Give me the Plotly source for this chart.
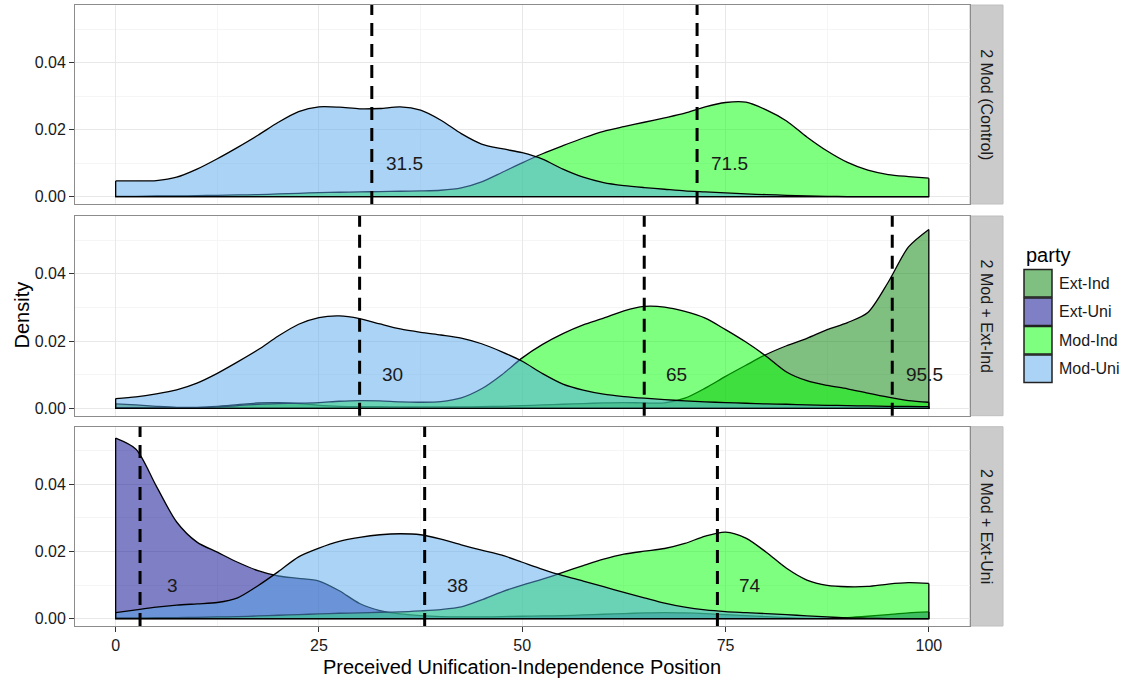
import plotly.graph_objects as go

# ---------------- data ----------------
X_GRID = [0, 2.5, 5, 7.5, 10, 12.5, 15, 17.5, 20, 22.5, 25, 27.5, 30, 32.5, 35, 37.5,
          40, 42.5, 45, 47.5, 50, 52.5, 55, 57.5, 60, 62.5, 65, 67.5, 70, 72.5, 75,
          77.5, 80, 82.5, 85, 87.5, 90, 92.5, 95, 97.5, 100]

PANELS = ["2 Mod (Control)", "2 Mod + Ext-Ind", "2 Mod + Ext-Uni"]
PARTIES = ["Ext-Ind", "Ext-Uni", "Mod-Ind", "Mod-Uni"]

# panel 1: 2 Mod (Control)
CONTROL_MOD_IND = [0.0001, 0.0001, 0.0002, 0.0002, 0.0003, 0.0004, 0.0005, 0.0006, 0.0008, 0.0010,
                   0.0012, 0.0013, 0.0014, 0.0015, 0.0016, 0.0017, 0.0019, 0.0026, 0.0044, 0.0072,
                   0.0101, 0.0128, 0.0152, 0.0175, 0.0195, 0.0209, 0.0222, 0.0235, 0.0249, 0.0268,
                   0.0281, 0.0282, 0.0259, 0.0226, 0.0178, 0.0136, 0.0102, 0.0079, 0.0066, 0.0060,
                   0.0055]
CONTROL_MOD_UNI = [0.0047, 0.0047, 0.0048, 0.0058, 0.0082, 0.0113, 0.0147, 0.0183, 0.0222, 0.0254,
                   0.0268, 0.0267, 0.0262, 0.0263, 0.0268, 0.0258, 0.0228, 0.0188, 0.0157, 0.0143,
                   0.0131, 0.0112, 0.0082, 0.0058, 0.0042, 0.0033, 0.0027, 0.0022, 0.0017, 0.0014,
                   0.0011, 0.0008, 0.0006, 0.0004, 0.0002, 0.0001, 0.0000, 0.0000, 0.0000, 0.0000,
                   0.0000]

# panel 2: 2 Mod + Ext-Ind
EXTIND_EXT_IND = [0.0013, 0.0010, 0.0006, 0.0003, 0.0003, 0.0006, 0.0011, 0.0016, 0.0017, 0.0014,
                  0.0009, 0.0006, 0.0005, 0.0005, 0.0004, 0.0004, 0.0004, 0.0004, 0.0005, 0.0006,
                  0.0008, 0.0010, 0.0012, 0.0014, 0.0016, 0.0017, 0.0016, 0.0016, 0.0030, 0.0060,
                  0.0095, 0.0128, 0.0160, 0.0186, 0.0208, 0.0234, 0.0255, 0.0285, 0.0375, 0.0480,
                  0.0532]
EXTIND_MOD_IND = [0.0002, 0.0002, 0.0001, 0.0001, 0.0002, 0.0004, 0.0008, 0.0012, 0.0014, 0.0015,
                  0.0017, 0.0021, 0.0023, 0.0022, 0.0019, 0.0018, 0.0020, 0.0031, 0.0058, 0.0100,
                  0.0150, 0.0190, 0.0222, 0.0248, 0.0268, 0.0290, 0.0303, 0.0301, 0.0288, 0.0268,
                  0.0234, 0.0197, 0.0155, 0.0108, 0.0082, 0.0068, 0.0058, 0.0045, 0.0033, 0.0023,
                  0.0018]
EXTIND_MOD_UNI = [0.0029, 0.0034, 0.0043, 0.0055, 0.0075, 0.0104, 0.0138, 0.0174, 0.0215, 0.0250,
                  0.0270, 0.0275, 0.0267, 0.0251, 0.0236, 0.0226, 0.0218, 0.0209, 0.0192, 0.0168,
                  0.0140, 0.0103, 0.0072, 0.0054, 0.0042, 0.0035, 0.0030, 0.0026, 0.0022, 0.0019,
                  0.0017, 0.0015, 0.0013, 0.0012, 0.0010, 0.0009, 0.0008, 0.0007, 0.0006, 0.0006,
                  0.0005]

# panel 3: 2 Mod + Ext-Uni
EXTUNI_EXT_UNI = [0.0538, 0.0505, 0.0395, 0.0288, 0.0228, 0.0198, 0.0168, 0.0143, 0.0127, 0.0120,
                  0.0112, 0.0083, 0.0045, 0.0024, 0.0014, 0.0009, 0.0006, 0.0005, 0.0005, 0.0006,
                  0.0007, 0.0008, 0.0009, 0.0011, 0.0013, 0.0015, 0.0017, 0.0018, 0.0017, 0.0015,
                  0.0012, 0.0009, 0.0006, 0.0003, 0.0001, 0.0001, 0.0003, 0.0007, 0.0012, 0.0017,
                  0.0020]
EXTUNI_MOD_IND = [0.0002, 0.0002, 0.0003, 0.0003, 0.0004, 0.0005, 0.0006, 0.0008, 0.0010, 0.0012,
                  0.0014, 0.0016, 0.0017, 0.0019, 0.0020, 0.0023, 0.0027, 0.0035, 0.0056, 0.0080,
                  0.0100, 0.0118, 0.0138, 0.0158, 0.0177, 0.0192, 0.0201, 0.0209, 0.0224, 0.0246,
                  0.0258, 0.0240, 0.0198, 0.0150, 0.0115, 0.0099, 0.0095, 0.0096, 0.0103, 0.0107,
                  0.0105]
EXTUNI_MOD_UNI = [0.0018, 0.0026, 0.0034, 0.0040, 0.0044, 0.0048, 0.0062, 0.0098, 0.0140, 0.0184,
                  0.0210, 0.0230, 0.0242, 0.0250, 0.0253, 0.0250, 0.0237, 0.0220, 0.0204, 0.0189,
                  0.0168, 0.0147, 0.0128, 0.0112, 0.0095, 0.0078, 0.0062, 0.0046, 0.0034, 0.0026,
                  0.0021, 0.0018, 0.0015, 0.0012, 0.0008, 0.0005, 0.0002, 0.0001, 0.0000, 0.0000,
                  0.0000]

PANEL_DENSITIES = [
    {"Mod-Ind": CONTROL_MOD_IND, "Mod-Uni": CONTROL_MOD_UNI},
    {"Ext-Ind": EXTIND_EXT_IND, "Mod-Ind": EXTIND_MOD_IND, "Mod-Uni": EXTIND_MOD_UNI},
    {"Ext-Uni": EXTUNI_EXT_UNI, "Mod-Ind": EXTUNI_MOD_IND, "Mod-Uni": EXTUNI_MOD_UNI},
]

MEDIANS = [[31.5, 71.5], [30, 65, 95.5], [3, 38, 74]]

X_TICKS = [0, 25, 50, 75, 100]
Y_TICKS = [0, 0.02, 0.04]
Y_TICK_LABELS = ["0.00", "0.02", "0.04"]

# ---------------- style ----------------
FILLS = {
    "Ext-Ind": "rgba(0,128,0,0.5)",
    "Ext-Uni": "rgba(0,0,139,0.5)",
    "Mod-Ind": "rgba(0,255,0,0.5)",
    "Mod-Uni": "rgba(87,167,235,0.5)",
}
FONT = "Liberation Sans, Arial, sans-serif"
W, H = 1125, 684
PANEL_PX = [(5, 204), (216, 415.7), (426.7, 626)]
X_LEFT, X_RIGHT = 75, 969.5
STRIP_RIGHT = 1003
LABEL_OFFSET = 4
LABEL_Y = 0.01


def fx(p):
    return p / W


def fy(p):
    return 1 - p / H


fig = go.Figure()
shapes = []
annotations = []

for i, panel in enumerate(PANELS):
    sfx = "" if i == 0 else str(i + 1)
    xa, ya = "x" + sfx, "y" + sfx
    dens = PANEL_DENSITIES[i]
    for party in PARTIES:
        if party not in dens:
            continue
        ys = dens[party]
        fig.add_trace(go.Scatter(
            x=X_GRID, y=ys, mode="lines", xaxis=xa, yaxis=ya,
            line=dict(color="black", width=1.3, shape="spline", smoothing=0.8),
            fill="tozeroy", fillcolor=FILLS[party], name=party,
            showlegend=False, hoverinfo="skip"))
        fig.add_trace(go.Scatter(
            x=[X_GRID[0], X_GRID[0], X_GRID[-1], X_GRID[-1]],
            y=[ys[0], 0, 0, ys[-1]], mode="lines", xaxis=xa, yaxis=ya,
            line=dict(color="black", width=1.3), showlegend=False, hoverinfo="skip"))

    # dashed median lines and labels
    for m in MEDIANS[i]:
        shapes.append(dict(type="line", xref=xa, yref=ya + " domain", x0=m, x1=m, y0=0, y1=1,
                           line=dict(color="black", width=3, dash="13px,8px"), layer="above"))
        annotations.append(dict(xref=xa, yref=ya, x=m + LABEL_OFFSET, y=LABEL_Y, text=f"{m:g}",
                                showarrow=False, font=dict(family=FONT, size=19, color="#1a1a1a"),
                                xanchor="center", yanchor="middle"))

    top, bot = PANEL_PX[i]
    dom_y = [fy(bot), fy(top)]
    bottom_panel = i == len(PANELS) - 1
    fig.update_layout(**{
        "xaxis" + sfx: dict(
            domain=[fx(X_LEFT), fx(X_RIGHT)], range=[-5, 105], anchor=ya,
            tickvals=X_TICKS, showticklabels=bottom_panel,
            ticks="outside" if bottom_panel else "", ticklen=5, tickcolor="#333333",
            tickfont=dict(family=FONT, size=16, color="#1a1a1a"),
            showgrid=True, gridcolor="#E8E8E8", gridwidth=1,
            minor=dict(tickvals=[12.5, 37.5, 62.5, 87.5], showgrid=True, gridcolor="#F5F5F5"),
            showline=True, mirror=True, linecolor="#8C8C8C", linewidth=1, zeroline=False,
            matches=None if i == 0 else "x"),
        "yaxis" + sfx: dict(
            domain=dom_y, range=[-0.0022, 0.0572], anchor=xa,
            tickvals=Y_TICKS, ticktext=Y_TICK_LABELS,
            ticks="outside", ticklen=5, tickcolor="#333333",
            tickfont=dict(family=FONT, size=16, color="#1a1a1a"),
            showgrid=True, gridcolor="#E8E8E8", gridwidth=1,
            minor=dict(tickvals=[0.01, 0.03, 0.05], showgrid=True, gridcolor="#F5F5F5"),
            showline=True, mirror=True, linecolor="#8C8C8C", linewidth=1, zeroline=False),
    })

    # facet strip
    shapes.append(dict(type="rect", xref="paper", yref="paper",
                       x0=fx(X_RIGHT + 0.5), x1=fx(STRIP_RIGHT), y0=dom_y[0], y1=dom_y[1],
                       fillcolor="#CBCBCB", line=dict(color="#BEBEBE", width=1), layer="below"))
    annotations.append(dict(xref="paper", yref="paper", x=fx((X_RIGHT + STRIP_RIGHT) / 2),
                            y=(dom_y[0] + dom_y[1]) / 2, text=panel, textangle=90, showarrow=False,
                            font=dict(family=FONT, size=16, color="#1a1a1a"),
                            xanchor="center", yanchor="middle"))

# axis titles
annotations.append(dict(xref="paper", yref="paper", x=fx((X_LEFT + X_RIGHT) / 2), y=fy(667),
                        text="Preceived Unification-Independence Position", showarrow=False,
                        font=dict(family=FONT, size=20, color="black"),
                        xanchor="center", yanchor="middle"))
annotations.append(dict(xref="paper", yref="paper", x=fx(21), y=fy(315.5), text="Density",
                        textangle=-90, showarrow=False,
                        font=dict(family=FONT, size=20, color="black"),
                        xanchor="center", yanchor="middle"))

# legend (drawn manually to mimic ggplot keys)
LEG_X, KEY_W, KEY_H, KEY_STEP, KEY_TOP = 1024, 28, 27.5, 28.5, 269.5
annotations.append(dict(xref="paper", yref="paper", x=fx(LEG_X), y=fy(255), text="party",
                        showarrow=False, font=dict(family=FONT, size=20, color="black"),
                        xanchor="left", yanchor="middle"))
for k, party in enumerate(PARTIES):
    t = KEY_TOP + k * KEY_STEP
    shapes.append(dict(type="rect", xref="paper", yref="paper",
                       x0=fx(LEG_X), x1=fx(LEG_X + KEY_W), y0=fy(t + KEY_H), y1=fy(t),
                       fillcolor=FILLS[party], line=dict(color="#222222", width=1.5)))
    annotations.append(dict(xref="paper", yref="paper", x=fx(LEG_X + KEY_W + 5),
                            y=fy(t + KEY_H / 2), text=party, showarrow=False,
                            font=dict(family=FONT, size=16, color="#1a1a1a"),
                            xanchor="left", yanchor="middle"))

fig.update_layout(
    width=W, height=H, autosize=False,
    margin=dict(l=0, r=0, t=0, b=0),
    paper_bgcolor="white", plot_bgcolor="white",
    showlegend=False, shapes=shapes, annotations=annotations,
    font=dict(family=FONT),
)

# remove the page's default body margin so the figure sits at the window origin
fig.write_html("out.html", config={"displayModeBar": False},
               post_script="document.body.style.margin='0px';")
